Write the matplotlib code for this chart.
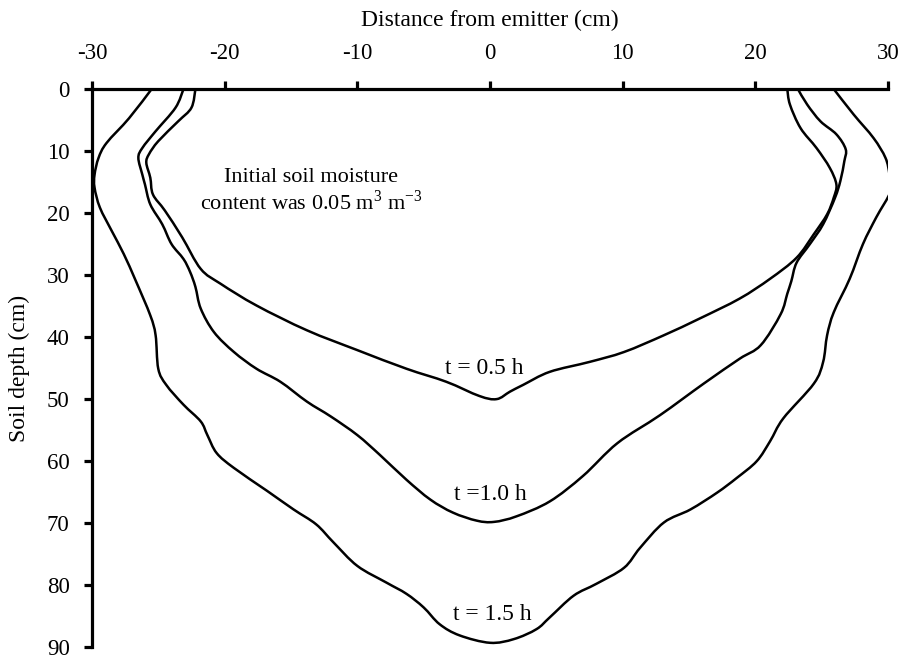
import numpy as np
from matplotlib import pyplot as plt
from matplotlib.path import Path
from matplotlib.patches import PathPatch

plt.rcParams['font.family'] = ['Liberation Serif', 'DejaVu Serif']
plt.rcParams['mathtext.fontset'] = 'custom'
plt.rcParams['mathtext.rm'] = 'Liberation Serif'
plt.rcParams['axes.unicode_minus'] = False

# wetting front outlines: distance from emitter (cm), soil depth (cm)
x_05 = [-22.2, -22.5, -23.5, -25.0, -25.7, -25.9, -25.6, -25.4, -24.5, -23.2, -21.8,
        -20.3, -17.6, -13.8, -10.0, -6.3, -3.3, -0.8, 0.5, 1.5, 2.5, 4.5, 7.5, 10.1, 13.1,
        15.8, 18.8, 21.1, 23.1, 24.4, 25.4, 25.9, 26.1, 25.6, 24.6, 23.4, 22.6, 22.4]
d_05 = [0, 3.0, 5.2, 8.4, 10.5, 11.9, 14.3, 17.0, 19.6, 23.9, 29.0,
        31.4, 34.9, 38.9, 42.1, 45.1, 47.2, 49.5, 50.0, 48.8, 47.7, 45.6, 44.0, 42.4, 39.7,
        37.0, 33.8, 30.6, 27.2, 23.4, 20.2, 17.5, 15.4, 12.7, 9.5, 6.3, 2.5, 0]

x_10 = [-23.1, -23.7, -25.2, -26.2, -26.5, -26.2, -26.0, -25.6, -24.7, -24.0, -23.1, -22.6,
        -22.2, -21.8, -20.8, -19.3, -17.6, -15.8, -13.8, -12.0, -10.0, -8.3, -6.3, -4.5,
        -2.8, -1.0, 0.3, 2.0, 4.5, 7.0, 9.6, 12.8, 16.1, 18.8, 20.4, 21.9, 22.4, 22.7,
        23.1, 24.1, 25.1, 26.0, 26.4, 26.7, 26.8, 26.1, 24.9, 23.9, 23.2]
d_10 = [0, 3.0, 6.8, 9.5, 11.1, 13.8, 15.4, 18.6, 21.8, 25.0, 27.4, 29.5,
        31.9, 35.4, 39.2, 42.4, 45.1, 47.2, 50.4, 52.8, 55.8, 59.0, 63.0, 66.2,
        68.3, 69.6, 69.8, 68.9, 66.5, 62.4, 57.1, 52.6, 47.5, 43.5, 41.3, 36.3, 33.0, 31.0,
        28.0, 25.0, 21.8, 17.5, 14.8, 11.6, 9.7, 7.3, 5.2, 2.5, 0]

x_15 = [-25.5, -27.2, -28.9, -29.5, -29.8, -29.8, -29.4, -28.5, -27.6, -26.7, -25.6, -25.2,
        -25.0, -24.4, -23.1, -21.8, -21.3, -20.6, -19.3, -16.8, -14.8, -13.1, -11.8, -10.0,
        -7.8, -6.3, -5.0, -3.8, -2.3, 0.0, 1.8, 3.5, 4.5, 6.3, 8.0, 10.1, 11.3, 13.1, 15.1,
        17.1, 18.6, 20.1, 21.1, 22.1, 24.4, 25.1, 25.4, 25.9, 27.1, 28.1, 29.1, 30.2, 30.1,
        29.8, 28.9, 27.4, 25.9]
d_15 = [0, 4.7, 8.7, 11.1, 13.8, 15.9, 19.1, 22.9, 26.6, 30.9, 36.5, 39.7,
        45.1, 47.7, 50.9, 53.6, 55.8, 58.7, 61.1, 64.8, 67.8, 70.2, 73.1, 76.9,
        79.6, 81.4, 83.6, 86.3, 88.1, 89.3, 88.7, 87.1, 85.2, 81.7, 79.8, 77.2, 74.0, 69.9, 67.8,
        65.1, 62.7, 60.0, 56.8, 53.1, 47.5, 44.0, 39.7, 36.0, 30.6, 25.0, 20.7, 16.4, 13.8,
        11.1, 7.9, 4.1, 0]

labels = ['t = 0.5 h', 't =1.0 h', 't = 1.5 h']
label_x = [-0.4, 0.0, 0.2]
label_d = [45.0, 65.4, 84.7]


def smooth_path(xs, ys):
    # Bezier segments through every point (same idea as a spreadsheet "smoothed line")
    p = np.column_stack([xs, ys]).astype(float)
    ext = np.vstack([p[0], p, p[-1]])
    verts = [p[0]]
    codes = [Path.MOVETO]
    for i in range(len(p) - 1):
        c1 = ext[i + 1] + (ext[i + 2] - ext[i]) / 6.0
        c2 = ext[i + 2] - (ext[i + 3] - ext[i + 1]) / 6.0
        verts += [c1, c2, p[i + 1]]
        codes += [Path.CURVE4] * 3
    return Path(verts, codes)


fig = plt.figure(figsize=(9.1, 6.55), dpi=100)
ax = fig.add_axes([0.101, 0.012, 0.875, 0.852])

for xs, ds in [(x_05, d_05), (x_10, d_10), (x_15, d_15)]:
    ax.add_patch(PathPatch(smooth_path(xs, ds), facecolor='none', edgecolor='black',
                           lw=1.8, joinstyle='round'))

for lab, lx, ld in zip(labels, label_x, label_d):
    ax.text(lx, ld, lab, ha='center', va='center', fontsize=17)

ax.text(-13.5, 16.5, 'Initial soil moisture\ncontent was 0.05 m$^3$ m$^{-3}$',
        ha='center', va='center', fontsize=16, linespacing=1.15)

ax.set_xlim(-30, 30)
ax.set_ylim(90, 0)
ax.set_xticks(np.arange(-30, 31, 10))
ax.set_yticks(np.arange(0, 91, 10))
ax.xaxis.tick_top()
ax.xaxis.set_label_position('top')
ax.set_xlabel('Distance from emitter (cm)', fontsize=17, labelpad=12)
ax.set_ylabel('Soil depth (cm)', fontsize=17, labelpad=12)

for side in ['right', 'bottom']:
    ax.spines[side].set_visible(False)
for side in ['left', 'top']:
    ax.spines[side].set_linewidth(2.3)
ax.tick_params(direction='out', length=6, width=2.3, labelsize=16.5)
ax.tick_params(axis='x', pad=12)
ax.tick_params(axis='y', pad=10)

fig.savefig('out.png', dpi=100)
